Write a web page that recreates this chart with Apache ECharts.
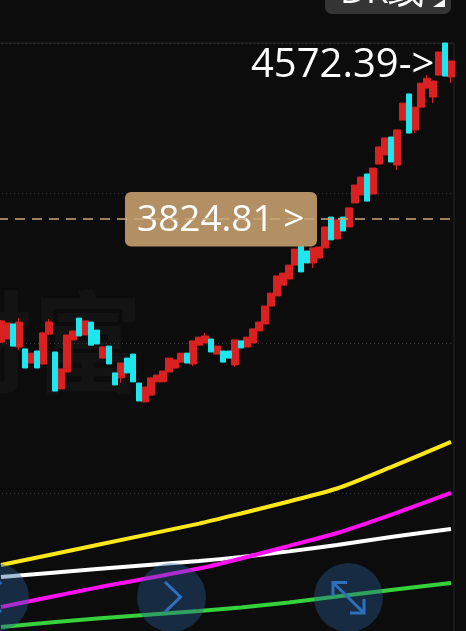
<!DOCTYPE html>
<html>
<head>
<meta charset="utf-8">
<style>html,body{margin:0;padding:0;background:#0c0c0c;overflow:hidden}#c{width:466px;height:631px}</style>
<script src="https://cdn.jsdelivr.net/npm/echarts@6/dist/echarts.min.js"></script>
</head>
<body>
<div id="c"></div>
<script>
const opens = [3302,3315,3379,3281,3273,3213,3264,3209,3336,3260,
3103,3175,3311,3404,3332,3387,3353,3234,3285,3171,
3150,3234,3251,3128,3048,3077,3133,3133,3175,3192,
3217,3255,3209,3289,3298,3315,3251,3264,3264,3205,
3307,3281,3298,3349,3379,3455,3498,3544,3570,3629,
3710,3689,3638,3659,3702,3833,3740,3833,3791,3893,
3927,4016,3931,4058,4097,4173,4054,4245,4356,4203,
4300,4381,4343,4436,4572.39,4428];
const closes = [3392,3383,3285,3387,3192,3255,3192,3341,3387,3094,
3188,3332,3349,3328,3392,3289,3294,3281,3209,3120,
3213,3171,3133,3052,3111,3150,3162,3179,3234,3226,
3255,3213,3307,3323,3328,3260,3285,3217,3234,3311,
3277,3323,3358,3387,3455,3510,3583,3595,3629,3697,
3600,3638,3702,3706,3791,3736,3821,3774,3872,3969,
4003,3901,4041,4131,4169,4067,4203,4317,4190,4300,
4402,4423,4411,4534,4432,4496];
const lows = [3298,3315,3285,3268,3192,3213,3192,3205,3332,3094,
3103,3175,3311,3328,3332,3289,3294,3234,3209,3120,
3128,3171,3133,3052,3048,3077,3133,3133,3175,3192,
3217,3213,3200,3289,3298,3260,3251,3217,3234,3196,
3277,3281,3298,3349,3379,3455,3498,3544,3570,3629,
3600,3638,3617,3659,3702,3736,3740,3774,3791,3893,
3927,3901,3931,4058,4097,4067,4033,4245,4190,4190,
4300,4381,4317,4436,4432,4402];
const highs = [3396,3383,3379,3404,3273,3255,3264,3345,3400,3260,
3188,3332,3349,3404,3392,3387,3353,3285,3285,3171,
3213,3234,3251,3128,3111,3150,3162,3179,3234,3226,
3255,3255,3307,3323,3341,3315,3285,3264,3264,3311,
3307,3323,3358,3387,3455,3510,3583,3595,3629,3697,
3710,3689,3702,3706,3791,3833,3821,3833,3872,3969,
4003,4016,4041,4131,4169,4173,4203,4317,4356,4300,
4402,4436,4411,4534,4572.39,4496];
const lineAt = [0,16,33,40,48,56,65,75];
const yellowLine = [2355,2440,2531,2574,2625,2680,2771,2878];
const whiteLine = [2304,2338,2372,2389,2413,2440,2474,2508];
const magentaLine = [2177,2259,2340,2383,2436,2491,2568,2661];
const greenLine = [2092,2128,2160,2175,2196,2221,2249,2279];
const maxLabel = '4572.39->';
const lastLabel = '3824.81 >';
const lastPrice = 3824.81;
const tabLabel = 'DK线';
const watermark = '财富';

const categories = opens.map((_, i) => i);
const candles = opens.map((o, i) => [o, closes[i], lows[i], highs[i]]);
const rising = candles.map(c => c[1] >= c[0] ? c : '-');
const falling = candles.map(c => c[1] < c[0] ? c : '-');
const pairs = vals => vals.map((v, i) => [lineAt[i], v]);
const mkLine = (vals, color) => ({
  type: 'line', data: pairs(vals), symbol: 'none', silent: true, z: 3, smooth: 0.25,
  lineStyle: { color, width: 4 }, clip: true
});
const FONT = '"Open Sans", Roboto, sans-serif';
const circleFill = 'rgba(40,90,150,0.4)';
const icon = '#2f70bd';
const stroke = pts => ({ type: 'polyline', z: 31, silent: true,
  shape: { points: pts }, style: { fill: null, stroke: icon, lineWidth: 3 } });
const upStyle = { color: '#d92121', color0: '#d92121', borderColor: '#d92121', borderColor0: '#d92121', borderWidth: 1 };
const downStyle = { color: '#1ee6ee', color0: '#1ee6ee', borderColor: '#1ee6ee', borderColor0: '#1ee6ee', borderWidth: 1 };

const chart = echarts.init(document.getElementById('c'), null, { renderer: 'canvas' });
chart.setOption({
  animation: false,
  backgroundColor: '#0c0c0c',
  grid: { show: true, left: -2, top: 43, width: 456, height: 600, outerBoundsMode: 'none',
    borderColor: '#262626', borderWidth: 1, backgroundColor: 'transparent' },
  xAxis: { type: 'category', data: categories, boundaryGap: true,
    axisLine: { show: false }, axisTick: { show: false }, axisLabel: { show: false }, splitLine: { show: false } },
  yAxis: { type: 'value', min: 2023.83, max: 4572.39, interval: 637.14,
    axisLine: { show: false }, axisTick: { show: false }, axisLabel: { show: false },
    splitLine: { show: true, lineStyle: { color: '#383838', type: [1, 3], width: 1 } } },
  series: [
    { type: 'candlestick', data: rising, barWidth: 7, z: 2, silent: true, itemStyle: upStyle,
      markLine: { silent: true, symbol: 'none', z: 50, animation: false, label: { show: false },
        lineStyle: { color: '#cda67a', type: [10, 7], width: 1.5 },
        data: [{ yAxis: lastPrice }] } },
    { type: 'candlestick', data: falling, barWidth: 6, z: 2.5, silent: true, itemStyle: downStyle },
    mkLine(whiteLine, '#ffffff'),
    mkLine(yellowLine, '#ffe81a'),
    mkLine(magentaLine, '#ff10f0'),
    mkLine(greenLine, '#36d23c')
  ],
  graphic: { elements: [
    { type: 'text', z: 0, silent: true, left: -77, top: 287,
      style: { text: watermark, font: 'bold 110px "Noto Sans CJK SC"', fill: '#131313' } },
    { type: 'rect', z: 10, silent: true, shape: { x: 325, y: -12, width: 126, height: 26, r: 7 }, style: { fill: '#353535' } },
    { type: 'text', z: 11, silent: true, style: { x: 340, y: 11, text: tabLabel, textVerticalAlign: 'bottom', font: '36px ' + FONT, fill: '#ffffff' } },
    { type: 'polygon', z: 11, silent: true, shape: { points: [[445, -1], [445, 7], [433, 7]] }, style: { fill: '#ffffff' } },
    { type: 'rect', z: 10, silent: true, shape: { x: 125, y: 192, width: 192, height: 54.5, r: 6 }, style: { fill: '#b29064' } },
    { type: 'text', z: 40, silent: true, style: { x: 137, y: 220, text: lastLabel, textVerticalAlign: 'middle', font: '400 37px ' + FONT, fill: '#ffffff' } },
    { type: 'text', z: 40, silent: true, style: { x: 251, y: 66, text: maxLabel, textVerticalAlign: 'middle', font: '400 40px ' + FONT, fill: '#ffffff' } },
    { type: 'circle', z: 30, silent: true, shape: { cx: -5.5, cy: 597.5, r: 34.5 }, style: { fill: circleFill } },
    { type: 'circle', z: 30, silent: true, shape: { cx: 171.5, cy: 597.5, r: 34.5 }, style: { fill: circleFill } },
    { type: 'circle', z: 30, silent: true, shape: { cx: 348.5, cy: 597.5, r: 34.5 }, style: { fill: circleFill } },
    stroke([[1, 582], [-15, 597], [1, 612]]),
    stroke([[165, 582], [180.5, 597], [165, 612]]),
    stroke([[333, 596], [333, 582.5], [347, 582.5]]),
    stroke([[333, 582.5], [364, 613]]),
    stroke([[350, 613], [364, 613], [364, 599]])
  ] }
});
</script>
</body>
</html>
